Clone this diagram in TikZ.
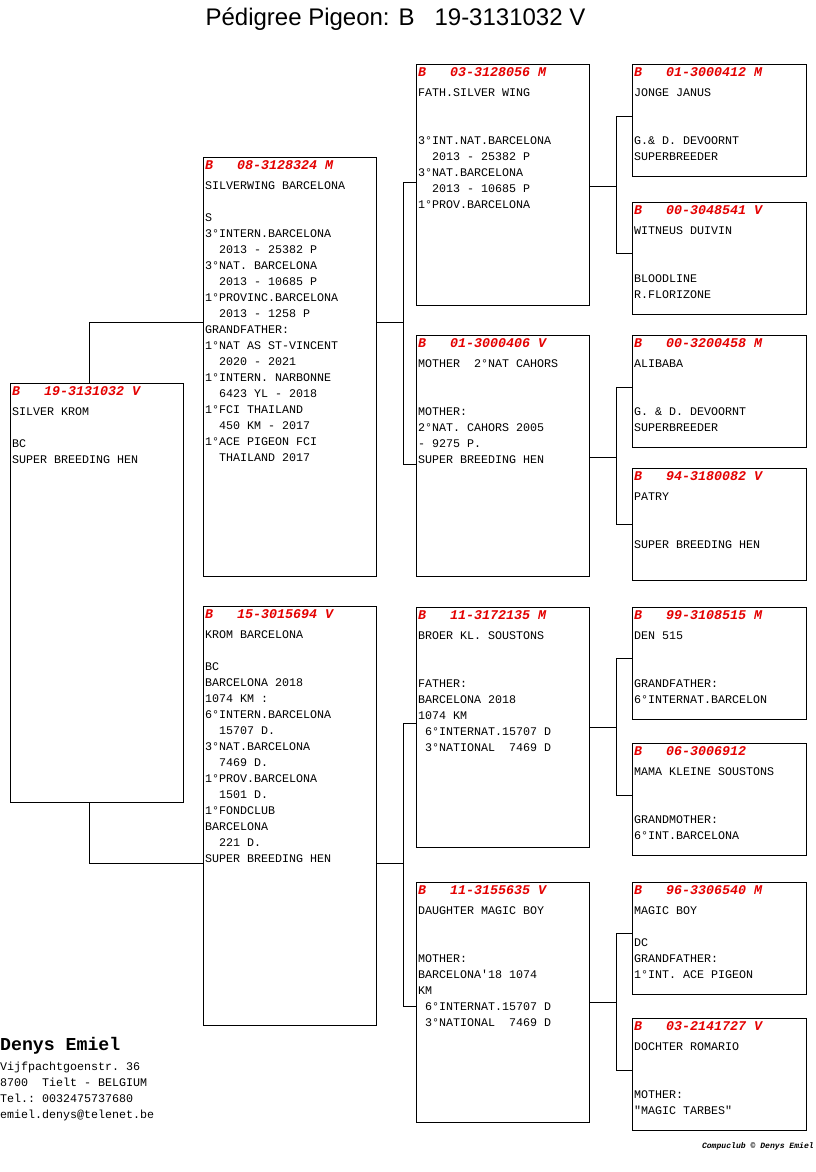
\documentclass[tikz,border=0pt]{standalone}
\usepackage{fontspec}
\setmonofont{Liberation Mono}
\newfontfamily\titlefont{Liberation Sans}
\definecolor{pedred}{RGB}{228,0,0}
\newcommand\ind{\phantom{00}}
\newcommand\one{\phantom{0}}
\newcommand\pedtext[2]{{\fontsize{11.67}{16}\selectfont\ttfamily\begin{tabular}[t]{@{}l@{}}{\fontsize{13.33}{16}\selectfont\bfseries\itshape\color{pedred}#1}\\[4.3pt]#2\end{tabular}}}
\tikzset{
  pbox/.style={draw, line width=1pt, anchor=north west, inner sep=0pt, minimum width=173pt},
  gbox/.style={pbox, minimum width=174pt, minimum height=112pt},
  ptext/.style={anchor=base west, inner sep=0pt, text=black},
  link/.style={line width=1pt}
}
\begin{document}
\begin{tikzpicture}[x=1pt,y=-1pt]
\path[fill=white] (0,0) rectangle (816,1172);
\useasboundingbox (0,0) rectangle (816,1172);

% title
\node[anchor=base, inner sep=0pt] (title) at (395.5,26) {\titlefont\fontsize{24}{24}\selectfont Pédigree Pigeon: B\ \ \ 19-3131032 V};

% generation 1
\node[pbox, minimum height=419pt] (s) at (10,383) {};
\node[ptext] (ts) at ([shift={(2,12)}]s.north west) {\pedtext{B\ \ \ 19-3131032 V}{SILVER KROM\\ \\BC\\SUPER BREEDING HEN}};

% generation 2
\node[pbox, minimum height=419pt] (f) at (203,157) {};
\node[ptext] (tf) at ([shift={(2,12)}]f.north west) {\pedtext{B\ \ \ 08-3128324 M}{SILVERWING BARCELONA\\ \\S\\3°INTERN.BARCELONA\\\ind 2013 - 25382 P\\3°NAT. BARCELONA\\\ind 2013 - 10685 P\\1°PROVINC.BARCELONA\\\ind 2013 - 1258 P\\GRANDFATHER:\\1°NAT AS ST-VINCENT\\\ind 2020 - 2021\\1°INTERN. NARBONNE\\\ind 6423 YL - 2018\\1°FCI THAILAND\\\ind 450 KM - 2017\\1°ACE PIGEON FCI\\\ind THAILAND 2017}};

\node[pbox, minimum height=419pt] (m) at (203,606) {};
\node[ptext] (tm) at ([shift={(2,12)}]m.north west) {\pedtext{B\ \ \ 15-3015694 V}{KROM BARCELONA\\ \\BC\\BARCELONA 2018\\1074 KM :\\6°INTERN.BARCELONA\\\ind 15707 D.\\3°NAT.BARCELONA\\\ind 7469 D.\\1°PROV.BARCELONA\\\ind 1501 D.\\1°FONDCLUB\\BARCELONA\\\ind 221 D.\\SUPER BREEDING HEN}};

% generation 3
\node[pbox, minimum height=241pt] (p1) at (416,64) {};
\node[ptext] (tp1) at ([shift={(2,12)}]p1.north west) {\pedtext{B\ \ \ 03-3128056 M}{FATH.SILVER WING\\ \\ \\3°INT.NAT.BARCELONA\\\ind 2013 - 25382 P\\3°NAT.BARCELONA\\\ind 2013 - 10685 P\\1°PROV.BARCELONA}};

\node[pbox, minimum height=241pt] (p2) at (416,335) {};
\node[ptext] (tp2) at ([shift={(2,12)}]p2.north west) {\pedtext{B\ \ \ 01-3000406 V}{MOTHER\ \ 2°NAT CAHORS\\ \\ \\MOTHER:\\2°NAT. CAHORS 2005\\- 9275 P.\\SUPER BREEDING HEN}};

\node[pbox, minimum height=240pt] (p3) at (416,607) {};
\node[ptext] (tp3) at ([shift={(2,12)}]p3.north west) {\pedtext{B\ \ \ 11-3172135 M}{BROER KL. SOUSTONS\\ \\ \\FATHER:\\BARCELONA 2018\\1074 KM\\\one 6°INTERNAT.15707 D\\\one 3°NATIONAL\ \ 7469 D}};

\node[pbox, minimum height=240pt] (p4) at (416,882) {};
\node[ptext] (tp4) at ([shift={(2,12)}]p4.north west) {\pedtext{B\ \ \ 11-3155635 V}{DAUGHTER MAGIC BOY\\ \\ \\MOTHER:\\BARCELONA'18 1074\\KM\\\one 6°INTERNAT.15707 D\\\one 3°NATIONAL\ \ 7469 D}};

% generation 4
\node[gbox] (g1) at (632,64) {};
\node[ptext] (tg1) at ([shift={(2,12)}]g1.north west) {\pedtext{B\ \ \ 01-3000412 M}{JONGE JANUS\\ \\ \\G.\& D. DEVOORNT\\SUPERBREEDER}};
\node[gbox] (g2) at (632,202) {};
\node[ptext] (tg2) at ([shift={(2,12)}]g2.north west) {\pedtext{B\ \ \ 00-3048541 V}{WITNEUS DUIVIN\\ \\ \\BLOODLINE\\R.FLORIZONE}};
\node[gbox] (g3) at (632,335) {};
\node[ptext] (tg3) at ([shift={(2,12)}]g3.north west) {\pedtext{B\ \ \ 00-3200458 M}{ALIBABA\\ \\ \\G. \& D. DEVOORNT\\SUPERBREEDER}};
\node[gbox] (g4) at (632,468) {};
\node[ptext] (tg4) at ([shift={(2,12)}]g4.north west) {\pedtext{B\ \ \ 94-3180082 V}{PATRY\\ \\ \\SUPER BREEDING HEN}};
\node[gbox] (g5) at (632,607) {};
\node[ptext] (tg5) at ([shift={(2,12)}]g5.north west) {\pedtext{B\ \ \ 99-3108515 M}{DEN 515\\ \\ \\GRANDFATHER:\\6°INTERNAT.BARCELON}};
\node[gbox] (g6) at (632,743) {};
\node[ptext] (tg6) at ([shift={(2,12)}]g6.north west) {\pedtext{B\ \ \ 06-3006912}{MAMA KLEINE SOUSTONS\\ \\ \\GRANDMOTHER:\\6°INT.BARCELONA}};
\node[gbox] (g7) at (632,882) {};
\node[ptext] (tg7) at ([shift={(2,12)}]g7.north west) {\pedtext{B\ \ \ 96-3306540 M}{MAGIC BOY\\ \\DC\\GRANDFATHER:\\1°INT. ACE PIGEON}};
\node[gbox] (g8) at (632,1018) {};
\node[ptext] (tg8) at ([shift={(2,12)}]g8.north west) {\pedtext{B\ \ \ 03-2141727 V}{DOCHTER ROMARIO\\ \\ \\MOTHER:\\"MAGIC TARBES"}};

% connectors gen1 -> gen2
\draw[link] ([xshift=79pt]s.north west) |- ([yshift=-165pt]f.north west);
\draw[link] ([xshift=79pt]s.south west) |- ([yshift=-257pt]m.north west);

% gen2 -> gen3
\draw[link] ([yshift=-165pt]f.north east) -- ++(27,0) coordinate (jf);
\draw[link] ([yshift=-118pt]p1.north west) -| ([xshift=-13pt,yshift=-129pt]p2.north west) -- ([yshift=-129pt]p2.north west);
\draw[link] ([yshift=-257pt]m.north east) -- ++(27,0) coordinate (jm);
\draw[link] ([yshift=-116pt]p3.north west) -| ([xshift=-13pt,yshift=-124pt]p4.north west) -- ([yshift=-124pt]p4.north west);

% gen3 -> gen4
\draw[link] ([yshift=-122pt]p1.north east) -- ++(27,0) coordinate (j1);
\draw[link] ([yshift=-52pt]g1.north west) -| ([xshift=-16pt,yshift=-51pt]g2.north west) -- ([yshift=-51pt]g2.north west);
\draw[link] ([yshift=-122pt]p2.north east) -- ++(27,0) coordinate (j2);
\draw[link] ([yshift=-52pt]g3.north west) -| ([xshift=-16pt,yshift=-56pt]g4.north west) -- ([yshift=-56pt]g4.north west);
\draw[link] ([yshift=-120pt]p3.north east) -- ++(27,0) coordinate (j3);
\draw[link] ([yshift=-51pt]g5.north west) -| ([xshift=-16pt,yshift=-52pt]g6.north west) -- ([yshift=-52pt]g6.north west);
\draw[link] ([yshift=-120pt]p4.north east) -- ++(27,0) coordinate (j4);
\draw[link] ([yshift=-51pt]g7.north west) -| ([xshift=-16pt,yshift=-52pt]g8.north west) -- ([yshift=-52pt]g8.north west);

% footer
\node[anchor=base west, inner sep=0pt] (name) at (0,1050) {\ttfamily\bfseries\fontsize{18.2}{20}\selectfont Denys Emiel};
\node[anchor=base west, inner sep=0pt] (addr) at (0,1070.5) {\fontsize{11.67}{16}\selectfont\ttfamily\begin{tabular}[t]{@{}l@{}}Vijfpachtgoenstr. 36\\8700\ \ Tielt - BELGIUM\\Tel.: 0032475737680\\emiel.denys@telenet.be\end{tabular}};
\node[anchor=base east, inner sep=0pt] (cc) at (814,1148.5) {\ttfamily\bfseries\itshape\fontsize{8.1}{9}\selectfont Compuclub © Denys Emiel};
\end{tikzpicture}
\end{document}
